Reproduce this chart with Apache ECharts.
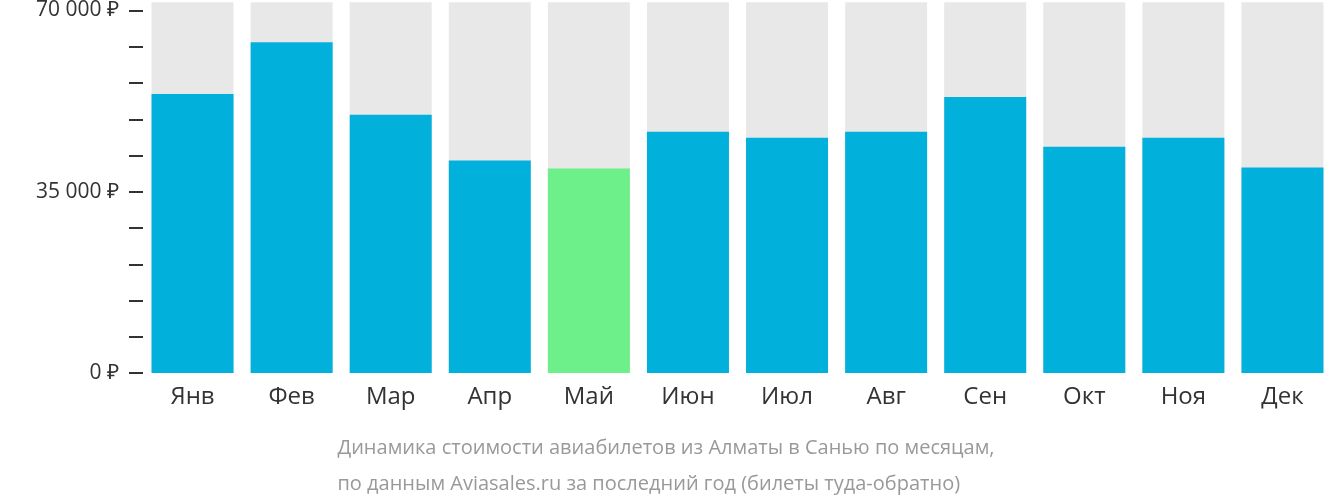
<!DOCTYPE html>
<html><head><meta charset="utf-8">
<script src="https://cdn.jsdelivr.net/npm/echarts@6/dist/echarts.min.js"></script>
<style>html,body{margin:0;padding:0;background:#fff}#c{width:1332px;height:502px}</style>
</head><body><div id="c"></div>
<script>
const categories=['Янв','Фев','Мар','Апр','Май','Июн','Июл','Авг','Сен','Окт','Ноя','Дек'];
const prices=[53900,63850,49850,41050,39500,46600,45450,46600,53300,43700,45450,39700];
const highlightIndex=4;
const tickValues=[0,7000,14000,21000,28000,35000,42000,49000,56000,63000,70000];
const labelValues=[0,35000,70000];
const chart=echarts.init(document.getElementById('c'));
chart.setOption({
 animation:false,
 grid:{left:143,top:0,width:1200,height:373},
 xAxis:{type:'category',data:categories,axisLine:{show:false},axisTick:{show:false},
  axisLabel:{color:'#333',fontSize:24,fontFamily:'Open Sans',margin:12}},
 yAxis:{type:'value',min:0,max:71600,axisLine:{show:false},splitLine:{show:false},
  axisTick:{show:true,length:14,customValues:tickValues,lineStyle:{color:'#333',width:2}},
  axisLabel:{customValues:labelValues,color:'#333',fontSize:21,fontFamily:'Open Sans',margin:24,
   formatter:v=>(v===0?'0':String(v).replace(/\B(?=(\d{3})+(?!\d))/g,' '))+' ₽'}},
 series:[{type:'bar',barWidth:82,showBackground:true,backgroundStyle:{color:'#e8e8e8'},
  data:prices.map((v,i)=>({value:v,itemStyle:{color:i===highlightIndex?'#6df08a':'#02b0dc'}}))}],
 graphic:[{type:'text',left:'center',x:0,top:430,style:{text:'Динамика стоимости авиабилетов из Алматы в Санью по месяцам,\nпо данным Aviasales.ru за последний год (билеты туда-обратно)',
  fill:'#999',fontSize:20,fontFamily:'Open Sans',lineHeight:36,align:'center'}}]
});
</script></body></html>
